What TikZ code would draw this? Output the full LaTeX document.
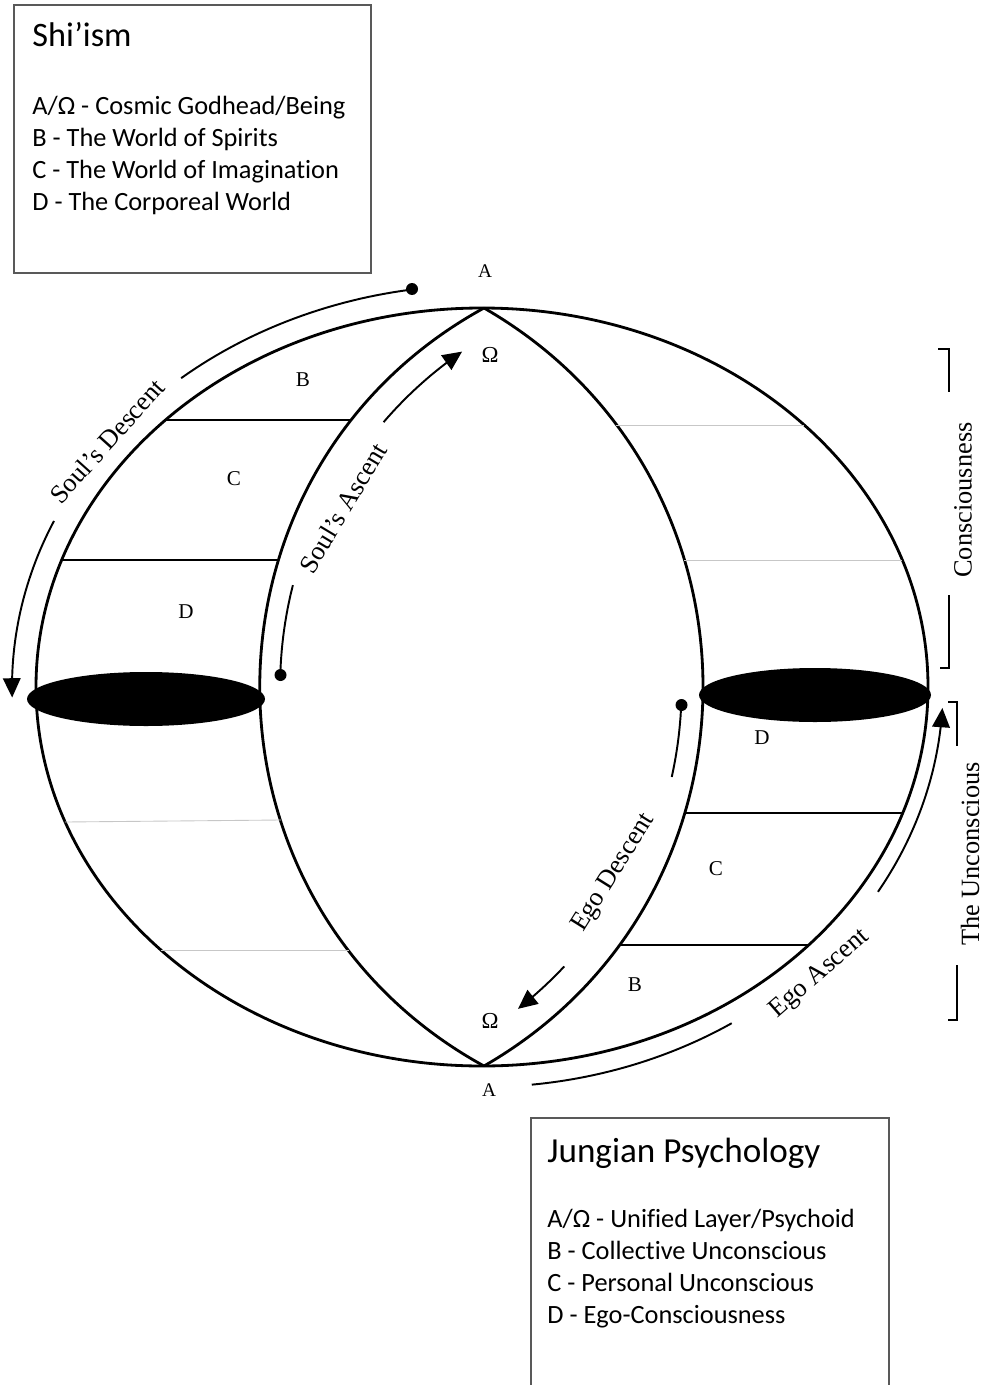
\documentclass[tikz,border=0pt]{standalone}
\usepackage{fontspec}
\setmainfont{Liberation Serif}
\newfontfamily\legendfont[Ligatures=NoCommon]{Carlito}
\usetikzlibrary{arrows.meta}

\tikzset{
  rim/.style={line width=1.6pt},
  guide/.style={line width=1.1pt},
  tip/.style={-{Triangle[length=11pt,width=10pt]}},
  layer/.style={line width=0.6pt},
  faint/.style={line width=0.5pt,black!22},
  bracket/.style={line width=0.8pt},
  dot/.style={circle,fill,inner sep=0pt,minimum size=0.24cm},
  pole/.style={font=\fontsize{11}{13}\selectfont,inner sep=0pt},
  omega/.style={font=\fontsize{13}{15}\selectfont,inner sep=0pt},
  letter/.style={font=\fontsize{12}{14}\selectfont,inner sep=0pt},
  path label/.style={font=\fontsize{15}{18}\selectfont,inner sep=0pt},
  legend/.style={draw=black!65,line width=0.7pt},
  legend title/.style={font=\legendfont\fontsize{19.5}{23}\selectfont,anchor=base west,inner sep=0pt},
  legend item/.style={font=\legendfont\fontsize{15}{18}\selectfont,anchor=base west,inner sep=0pt}
}

\begin{document}
\begin{tikzpicture}[x=0.02cm,y=-0.02cm]
\useasboundingbox (0,0) rectangle (985,1385);
% legend boxes
\draw[legend] (14,5) rectangle (371,273);
\node[legend title] (shititle) at (32,47) {Shi’ism};
\foreach \y/\txt in {115/{A/Ω - Cosmic Godhead/Being},147/{B - The World of Spirits},179/{C - The World of Imagination},211/{D - The Corporeal World}}{\node[legend item] (shi-\y) at (32,\y) {\txt};}
\draw[legend] (531,1390) -- (531,1118) -- (889,1118) -- (889,1390);
\node[legend title,font=\legendfont\fontsize{20}{24}\selectfont] (jungtitle) at (547,1162) {Jungian Psychology};
\foreach \y/\txt in {1227/{A/Ω - Unified Layer/Psychoid},1259/{B - Collective Unconscious},1291/{C - Personal Unconscious},1323/{D - Ego-Consciousness}}{\node[legend item] (jung-\y) at (547,\y) {\txt};}

% sphere and lens
\coordinate (N) at (484,308);
\coordinate (S) at (484,1066);
\draw[rim] (482,687) ellipse [x radius=446, y radius=379];
\draw[rim] (N) .. controls (185,472) and (185,902) .. (S);
\draw[rim] (N) .. controls (776,476) and (776,898) .. (S);
% layers
\draw[layer] (165.5,420) -- (352.4,420);
\draw[layer] (61.8,560) -- (279.1,560);
\draw[faint] (64.8,822) -- (281.3,820);
\draw[faint] (160.9,950) -- (349.3,950);
\draw[faint] (616,425) -- (804.3,425);
\draw[faint] (684.2,560) -- (902.2,560);
\draw[layer] (684.5,813) -- (902.6,813);
\draw[layer] (619,945) -- (808.7,945);
\fill (146,699) ellipse [x radius=119, y radius=27];
\fill (815,695) ellipse [x radius=116, y radius=27];

% soul's descent
\draw[guide] plot[domain=98.6:129.8,samples=30,variable=\t] ({482+470*cos(\t)},{687-402*sin(\t)});
\draw[guide,tip] plot[domain=155.6:181.5,samples=30,variable=\t] ({482+470*cos(\t)},{687-402*sin(\t)});
\node[dot] (descdot) at (412,289) {};
% soul's ascent
\draw[guide] plot[domain=165.7:178.3,samples=20,variable=\t] ({692.6+412.5*cos(\t)},{687-412.5*sin(\t)});
\draw[guide,tip] plot[domain=139.4:124.5,samples=20,variable=\t] ({692.6+407*cos(\t)},{687-407*sin(\t)});
\node[dot] (ascdot) at (280.5,675) {};
% ego descent
\draw[guide] plot[domain=-12.5:-2.5,samples=20,variable=\t] ({265.6+416*cos(\t)},{687-416*sin(\t)});
\draw[guide,tip] plot[domain=-43.1:-51.9,samples=20,variable=\t] ({265.6+409*cos(\t)},{687-409*sin(\t)});
\node[dot] (egodot) at (681.5,705) {};
% ego ascent
\draw[guide] plot[domain=-83.8:-57.2,samples=30,variable=\t] ({482+461*cos(\t)},{687-400*sin(\t)});
\draw[guide,tip] plot[domain=-30.8:-3,samples=30,variable=\t] ({482+461*cos(\t)},{687-400*sin(\t)});

% labels
\node[pole] (Atop) at (485,271) {A};
\node[omega] (Otop) at (490,355) {Ω};
\node[omega] (Obot) at (490,1021) {Ω};
\node[pole] (Abot) at (489,1090) {A};
\node[letter] (lB) at (303,380) {B};
\node[letter] (lC) at (234,479) {C};
\node[letter] (lD) at (186,612) {D};
\node[letter] (rD) at (762,738) {D};
\node[letter] (rC) at (716,869) {C};
\node[letter] (rB) at (635,985) {B};
\node[path label,rotate=48] (soulsdesc) at (107,441) {Soul’s Descent};
\node[path label,rotate=59] (soulsasc) at (343,508) {Soul’s Ascent};
\node[path label,rotate=58] (egodesc) at (614,873) {Ego Descent};
\node[path label,rotate=41] (egoasc) at (820,974) {Ego Ascent};
\node[path label,rotate=90] (consc) at (963,500) {Consciousness};
\node[path label,rotate=90] (uncons) at (970,854) {The Unconscious};
% brackets
\draw[bracket] (938,349) -- (949,349) -- (949,392);
\draw[bracket] (949,595) -- (949,668) -- (940,668);
\draw[bracket] (948,702) -- (957,702) -- (957,746);
\draw[bracket] (957,965) -- (957,1020) -- (948,1020);
\end{tikzpicture}
\end{document}
